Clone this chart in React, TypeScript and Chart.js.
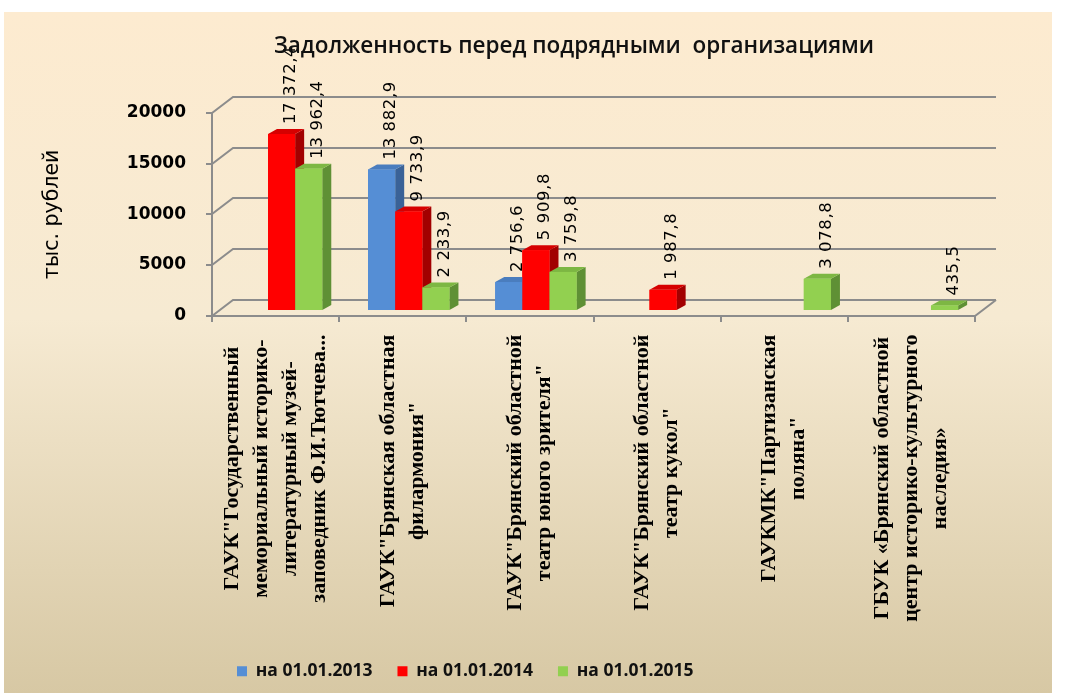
import React, { useEffect, useRef } from 'react';
import { Chart, registerables } from 'chart.js';

Chart.register(...registerables);

// ---------- data ----------
const TITLE = 'Задолженность перед подрядными  организациями';
const Y_TITLE = 'тыс. рублей';
const CATEGORIES: string[][] = [
  ['ГАУК"Государственный', 'мемориальный историко-', 'литературный музей-', 'заповедник Ф.И.Тютчева...'],
  ['ГАУК"Брянская областная', 'филармония"'],
  ['ГАУК"Брянский областной', 'театр юного зрителя"'],
  ['ГАУК"Брянский областной', 'театр кукол"'],
  ['ГАУКМК"Партизанская', 'поляна"'],
  ['ГБУК «Брянский областной', 'центр историко-культурного', 'наследия»'],
];
const SERIES_NAMES = ['на 01.01.2013', 'на 01.01.2014', 'на 01.01.2015'];
const VALUES_2013 = [null, 13882.9, 2756.6, null, null, null];
const VALUES_2014 = [17372.4, 9733.9, 5909.8, 1987.8, null, null];
const VALUES_2015 = [13962.4, 2233.9, 3759.8, null, 3078.8, 435.5];
const Y_TICKS = [0, 5000, 10000, 15000, 20000];

// ---------- styles ----------
const FRONT_COLORS = ['#558ED5', '#FF0000', '#92D050'];
const TOP_COLORS = ['#4A7DBE', '#D60000', '#7DB743'];
const SIDE_COLORS = ['#3A6297', '#A20000', '#5F9035'];
const GRID_COLOR = '#8C8C8C';
const WALL_DX = 21;
const WALL_DY = 16;
const BAR_SHIFT_X = 6;
const BAR_SHIFT_Y = -5.5;
const BAR_DX = 9;
const BAR_DY = 5;

const fmt = (v: number) => {
  const [i, d] = v.toFixed(1).split('.');
  return i.replace(/\B(?=(\d{3})+(?!\d))/g, ' ') + ',' + d;
};

const frame3d = {
  id: 'frame3d',
  beforeDatasetsDraw(chart: any) {
    const { ctx, chartArea: a, scales } = chart;
    const x = scales.x;
    const y = scales.y;
    ctx.save();
    ctx.strokeStyle = GRID_COLOR;
    ctx.lineWidth = 2;
    Y_TICKS.forEach((v) => {
      const py = Math.round(y.getPixelForValue(v));
      ctx.beginPath();
      ctx.moveTo(a.left - 6, py);
      ctx.lineTo(a.left, py);
      ctx.lineTo(a.left + WALL_DX, py - WALL_DY);
      ctx.lineTo(a.right + WALL_DX, py - WALL_DY);
      ctx.stroke();
    });
    const b = Math.round(a.bottom);
    ctx.beginPath();
    ctx.moveTo(a.left, a.top);
    ctx.lineTo(a.left, b + 6);
    ctx.stroke();
    ctx.beginPath();
    ctx.moveTo(a.left, b);
    ctx.lineTo(a.right, b);
    ctx.lineTo(a.right + WALL_DX, b - WALL_DY);
    ctx.stroke();
    for (let i = 0; i <= CATEGORIES.length; i++) {
      const px = Math.round(x.getPixelForValue(i - 0.5));
      ctx.beginPath();
      ctx.moveTo(px, b);
      ctx.lineTo(px, b + 6);
      ctx.stroke();
    }
    ctx.restore();
    ctx.save();
    ctx.translate(BAR_SHIFT_X, BAR_SHIFT_Y);
  },
  afterDatasetsDraw(chart: any) {
    const { ctx } = chart;
    const bars: any[] = [];
    chart.data.datasets.forEach((ds: any, di: number) => {
      const meta = chart.getDatasetMeta(di);
      meta.data.forEach((el: any, i: number) => {
        const v = ds.data[i];
        if (v == null) return;
        const p = el.getProps(['x', 'y', 'base', 'width'], true);
        bars.push({ di, v, ...p });
      });
    });
    bars.sort((p, q) => p.x - q.x);
    for (const b of bars) {
      const l = b.x - b.width / 2;
      const r = b.x + b.width / 2;
      ctx.fillStyle = SIDE_COLORS[b.di];
      ctx.beginPath();
      ctx.moveTo(r, b.y);
      ctx.lineTo(r + BAR_DX, b.y - BAR_DY);
      ctx.lineTo(r + BAR_DX, b.base - BAR_DY);
      ctx.lineTo(r, b.base);
      ctx.closePath();
      ctx.fill();
      ctx.fillStyle = TOP_COLORS[b.di];
      ctx.beginPath();
      ctx.moveTo(l, b.y);
      ctx.lineTo(l + BAR_DX, b.y - BAR_DY);
      ctx.lineTo(r + BAR_DX, b.y - BAR_DY);
      ctx.lineTo(r, b.y);
      ctx.closePath();
      ctx.fill();
      ctx.fillStyle = FRONT_COLORS[b.di];
      ctx.fillRect(l, b.y, r - l, b.base - b.y);
    }
    ctx.fillStyle = '#000';
    ctx.font = '16.5px "DejaVu Sans"';
    (ctx as any).letterSpacing = '0.6px';
    for (const b of bars) {
      ctx.save();
      ctx.translate(b.x + 9, b.y - 10);
      ctx.rotate(-Math.PI / 2);
      ctx.textAlign = 'left';
      ctx.textBaseline = 'middle';
      ctx.fillText(fmt(b.v), 0, 0);
      ctx.restore();
    }
    (ctx as any).letterSpacing = '0px';
    ctx.restore();
  },
  afterDraw(chart: any) {
    const { ctx, chartArea: a, scales } = chart;
    const x = scales.x;
    ctx.save();
    // title
    ctx.fillStyle = '#111';
    ctx.font = '600 22.5px "Open Sans"';
    ctx.textAlign = 'center';
    ctx.textBaseline = 'alphabetic';
    ctx.fillText(TITLE, 574, 53);
    // category labels
    ctx.font = 'bold 22px "Liberation Serif"';
    ctx.fillStyle = '#000';
    const labelTop = a.bottom + 19;
    CATEGORIES.forEach((lines, i) => {
      const cx = x.getPixelForValue(i);
      const wmax = Math.max(...lines.map((t) => ctx.measureText(t).width));
      ctx.save();
      ctx.translate(cx, labelTop + wmax / 2);
      ctx.rotate(-Math.PI / 2);
      ctx.textAlign = 'center';
      ctx.textBaseline = 'middle';
      lines.forEach((t, j) => ctx.fillText(t, 0, (j - (lines.length - 1) / 2) * 29));
      ctx.restore();
    });
    ctx.restore();
  },
};

export default function App() {
  const ref = useRef<HTMLCanvasElement>(null);
  useEffect(() => {
    if (!ref.current) return;
    const seriesValues = [VALUES_2013, VALUES_2014, VALUES_2015];
    const chart = new Chart(ref.current, {
      type: 'bar',
      data: {
        labels: CATEGORIES.map((c) => c.join(' ')),
        datasets: SERIES_NAMES.map((name, i) => ({
          label: name,
          data: seriesValues[i],
          backgroundColor: FRONT_COLORS[i],
          borderWidth: 0,
          categoryPercentage: 0.64,
          barPercentage: 1,
        })),
      },
      options: {
        responsive: false,
        animation: false,
        devicePixelRatio: 1,
        layout: { padding: { top: 113, right: 90, bottom: 9, left: 0 } },
        plugins: {
          title: { display: false },
          tooltip: { enabled: false },
          legend: {
            position: 'bottom',
            align: 'start',
            fullSize: false,
            labels: {
              boxWidth: 10,
              boxHeight: 10,
              padding: 25,
              color: '#111',
              font: { family: '"Open Sans"', size: 17.5, weight: 'bold' },
            },
          },
        },
        scales: {
          x: {
            grid: { display: false, drawTicks: false },
            border: { display: false },
            ticks: { display: false },
            afterFit: (s: any) => {
              s.height = 322;
            },
          },
          y: {
            min: 0,
            max: 20000,
            grid: { display: false, drawTicks: false },
            border: { display: false },
            ticks: {
              stepSize: 5000,
              padding: 26,
              color: '#000',
              font: { family: '"DejaVu Sans"', size: 17, weight: 'bold' },
              callback: (v: any) => String(v),
            },
            title: {
              display: true,
              text: Y_TITLE,
              color: '#000',
              padding: { top: 40, bottom: 0 },
              font: { family: '"DejaVu Sans"', size: 20.5 },
            },
            afterFit: (s: any) => {
              s.width = 212;
            },
          },
        },
      },
      plugins: [frame3d],
    });
    return () => chart.destroy();
  }, []);

  return (
    <div style={{ position: 'fixed', left: 0, top: 0, width: 1065, height: 699, background: '#fff', overflow: 'hidden' }}>
      <div
        style={{
          position: 'absolute',
          left: 4,
          top: 12,
          width: 1048,
          height: 681,
          background: 'linear-gradient(to bottom, #fdebd0 0%, #f6ead2 45%, #d7c8a4 100%)',
        }}
      />
      <canvas ref={ref} width={1065} height={699} style={{ position: 'absolute', left: 0, top: 0, width: 1065, height: 699 }} />
    </div>
  );
}
